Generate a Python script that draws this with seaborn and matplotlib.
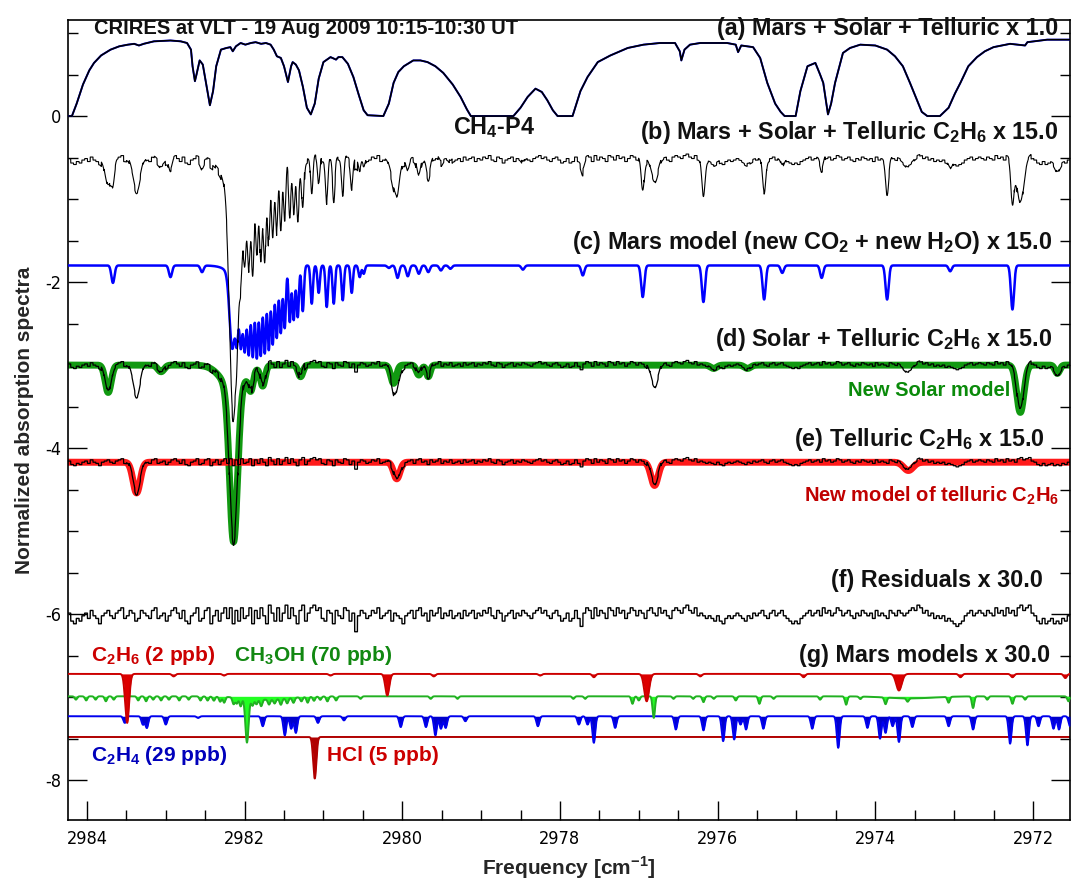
import numpy as np
import matplotlib
matplotlib.use('Agg')
import matplotlib.pyplot as plt
from matplotlib import font_manager
from matplotlib.ticker import MultipleLocator
import seaborn as sns

# ---------------- data ----------------
# (a) Mars + Solar + Telluric, x1 (knots: frequency cm-1, value)
a_freq = [2984.23, 2984.19, 2984.13, 2984.05, 2983.97, 2983.91, 2983.82, 2983.70, 2983.59, 2983.48,
          2983.40, 2983.34, 2983.28, 2983.15, 2982.94, 2982.81, 2982.73, 2982.68, 2982.66, 2982.63,
          2982.61, 2982.57, 2982.53, 2982.49, 2982.44, 2982.40, 2982.36, 2982.30, 2982.23, 2982.18,
          2982.15, 2982.11, 2982.05, 2981.99, 2981.92, 2981.86, 2981.79, 2981.73, 2981.67, 2981.63,
          2981.59, 2981.54, 2981.50, 2981.45, 2981.41, 2981.39, 2981.35, 2981.31, 2981.26, 2981.21,
          2981.16, 2981.11, 2981.06, 2981.00, 2980.91, 2980.84, 2980.81, 2980.76, 2980.69, 2980.62,
          2980.55, 2980.49, 2980.44, 2980.24, 2980.17, 2980.11, 2980.05, 2979.98, 2979.86, 2979.77,
          2979.68, 2979.58, 2979.48, 2979.36, 2979.26, 2979.18, 2979.13, 2978.59, 2978.50, 2978.41,
          2978.31, 2978.23, 2978.16, 2978.09, 2978.03, 2977.84, 2977.74, 2977.65, 2977.52, 2977.36,
          2977.14, 2976.94, 2976.73, 2976.54, 2976.48, 2976.46, 2976.42, 2976.35, 2976.22, 2975.88,
          2975.77, 2975.74, 2975.70, 2975.55, 2975.46, 2975.37, 2975.27, 2975.20, 2975.15, 2975.01,
          2974.95, 2974.86, 2974.76, 2974.70, 2974.66, 2974.62, 2974.60, 2974.56, 2974.51, 2974.44,
          2974.41, 2974.32, 2974.19, 2974.00, 2973.85, 2973.75, 2973.65, 2973.56, 2973.47, 2973.41,
          2973.34, 2973.18, 2973.07, 2972.99, 2972.92, 2972.82, 2972.71, 2972.61, 2972.50, 2972.29,
          2972.10, 2972.07, 2971.82, 2971.66, 2971.53]
a_val = [0.00, 0.00, 0.15, 0.38, 0.55, 0.64, 0.73, 0.80, 0.84, 0.86,
         0.87, 0.85, 0.87, 0.90, 0.91, 0.90, 0.88, 0.80, 0.60, 0.42,
         0.50, 0.67, 0.62, 0.40, 0.13, 0.30, 0.60, 0.80, 0.82, 0.83,
         0.78, 0.84, 0.88, 0.86, 0.88, 0.89, 0.87, 0.88, 0.86, 0.80,
         0.72, 0.70, 0.60, 0.41, 0.60, 0.65, 0.62, 0.55, 0.35, 0.10,
         0.02, 0.15, 0.45, 0.65, 0.71, 0.68, 0.71, 0.71, 0.63, 0.47,
         0.25, 0.07, 0.01, 0.00, 0.15, 0.40, 0.53, 0.60, 0.67, 0.67,
         0.65, 0.60, 0.52, 0.38, 0.23, 0.08, 0.00, 0.00, 0.10, 0.23,
         0.33, 0.29, 0.19, 0.07, 0.00, 0.00, 0.30, 0.47, 0.65, 0.73,
         0.82, 0.86, 0.88, 0.88, 0.78, 0.67, 0.80, 0.86, 0.88, 0.88,
         0.86, 0.77, 0.85, 0.83, 0.70, 0.40, 0.15, 0.05, 0.00, 0.00,
         0.30, 0.60, 0.64, 0.50, 0.40, 0.15, 0.02, 0.15, 0.40, 0.65,
         0.76, 0.82, 0.86, 0.85, 0.80, 0.72, 0.60, 0.40, 0.19, 0.05,
         0.00, 0.00, 0.10, 0.27, 0.40, 0.60, 0.71, 0.78, 0.83, 0.87,
         0.85, 0.89, 0.92, 0.92, 0.92]

# line lists: centre (cm-1), depth (plot units), gaussian width (cm-1)
solar_pos = [2983.73, 2983.06, 2982.14, 2982.14, 2981.92, 2981.77, 2981.29, 2980.11, 2979.79,
             2979.67, 2976.05, 2975.62, 2972.16, 2971.69]
solar_depth = [0.33, 0.08, 1.85, 0.28, 0.22, 0.24, 0.14, 0.22, 0.12, 0.14, 0.04, 0.04, 0.57, 0.10]
solar_width = [0.038, 0.04, 0.05, 0.15, 0.03, 0.03, 0.03, 0.035, 0.03, 0.025, 0.04, 0.04, 0.045, 0.03]

telluric_pos = [2983.37, 2980.07, 2976.80, 2973.58]
telluric_depth = [0.37, 0.20, 0.28, 0.10]
telluric_width = [0.045, 0.04, 0.045, 0.06]

mars_pos = [2983.67, 2982.94, 2982.54, 2982.16, 2982.05, 2981.90,
            2982.099, 2982.048, 2981.998, 2981.947, 2981.896, 2981.845, 2981.795, 2981.744,
            2981.693, 2981.643, 2981.592, 2981.541, 2981.491, 2981.427, 2981.377, 2981.326,
            2981.262, 2981.148, 2981.060, 2980.958, 2980.869, 2980.755, 2980.641, 2980.540,
            2980.489, 2980.17, 2980.06, 2979.93, 2979.79, 2979.67, 2979.51, 2979.39, 2978.47,
            2977.71, 2976.95, 2976.18, 2975.41, 2975.18, 2974.68, 2973.85, 2973.05, 2972.26]
mars_depth = [0.21, 0.14, 0.08, 0.75, 0.40, 0.30,
              0.38, 0.39, 0.47, 0.63, 0.75, 0.82, 0.83, 0.85,
              0.86, 0.84, 0.80, 0.77, 0.73, 0.67, 0.65, 0.62,
              0.55, 0.46, 0.33, 0.50, 0.46, 0.42, 0.33, 0.14,
              0.10, 0.03, 0.15, 0.13, 0.10, 0.08, 0.06, 0.04, 0.05,
              0.12, 0.38, 0.44, 0.41, 0.09, 0.15, 0.41, 0.07, 0.53]
mars_width = [0.02, 0.02, 0.02, 0.032, 0.076, 0.18] + [0.015] * 25 + [0.02] * 17

c2h6_pos = [2983.49, 2980.19, 2976.90, 2973.70, 2982.90, 2982.26, 2980.91, 2979.60, 2978.25,
            2977.57, 2976.22, 2974.91, 2972.92, 2972.26, 2971.59]
c2h6_depth = [0.59, 0.26, 0.33, 0.20, 0.03, 0.02, 0.02, 0.03, 0.02, 0.04, 0.03, 0.04, 0.04, 0.04, 0.05]
c2h6_width = [0.025, 0.025, 0.03, 0.035] + [0.02] * 11

ch3oh_pos = [2984.14, 2984.01, 2983.89, 2983.76, 2983.66, 2983.35, 2983.25, 2983.16, 2983.06,
             2982.96, 2982.83, 2982.71, 2982.56, 2982.39, 2982.26, 2982.14, 2982.05, 2981.97,
             2981.90, 2981.79, 2981.69, 2981.54, 2981.38, 2981.20, 2981.12, 2980.95, 2980.84,
             2980.53, 2979.64, 2979.30, 2977.83, 2977.68, 2977.08, 2977.00, 2976.81, 2976.56,
             2976.31, 2976.18, 2976.05, 2975.77, 2975.47, 2975.29, 2974.70, 2974.37, 2974.19,
             2973.87, 2973.59, 2973.07, 2972.76, 2972.58, 2972.26, 2972.10, 2971.55,
             2982.47, 2982.31, 2982.10, 2981.85, 2981.62, 2981.46, 2981.28, 2981.04,
             2981.73, 2973.56]
ch3oh_depth = [0.04, 0.05, 0.04, 0.06, 0.04, 0.05, 0.06, 0.04, 0.05,
               0.04, 0.05, 0.04, 0.05, 0.05, 0.07, 0.08, 0.10, 0.53,
               0.08, 0.08, 0.06, 0.07, 0.06, 0.07, 0.05, 0.06, 0.05,
               0.03, 0.03, 0.03, 0.03, 0.03, 0.09, 0.05, 0.26, 0.03,
               0.03, 0.07, 0.03, 0.05, 0.09, 0.03, 0.04, 0.10, 0.03,
               0.08, 0.04, 0.07, 0.14, 0.04, 0.09, 0.04, 0.06,
               0.05, 0.06, 0.07, 0.06, 0.05, 0.06, 0.05, 0.04,
               0.04, 0.025]
ch3oh_width = [0.015] * 17 + [0.02] + [0.015] * 43 + [0.28, 0.30]

c2h4_pos = [2983.52, 2983.29, 2983.24, 2983.00, 2982.59, 2981.77, 2981.49, 2981.41, 2981.35,
            2981.07, 2980.74, 2980.02, 2979.70, 2979.58, 2979.51, 2979.45, 2979.20, 2978.28,
            2977.76, 2977.65, 2977.57, 2977.30, 2976.53, 2976.18, 2975.93, 2975.79, 2975.71,
            2975.64, 2975.42, 2974.80, 2974.47, 2974.10, 2973.94, 2973.87, 2973.78, 2973.70,
            2973.53, 2973.07, 2972.76, 2972.29, 2972.07, 2971.93, 2971.74, 2971.67, 2971.53]
c2h4_depth = [0.08, 0.10, 0.14, 0.10, 0.02, 0.12, 0.23, 0.15, 0.20,
              0.08, 0.05, 0.13, 0.13, 0.23, 0.15, 0.14, 0.06, 0.12,
              0.10, 0.10, 0.32, 0.14, 0.16, 0.17, 0.30, 0.28, 0.10,
              0.16, 0.15, 0.15, 0.38, 0.14, 0.27, 0.20, 0.12, 0.31,
              0.13, 0.12, 0.16, 0.33, 0.35, 0.12, 0.15, 0.16, 0.12]
c2h4_width = 0.018

hcl_pos = [2981.11]
hcl_depth = [0.50]
hcl_width = 0.02

# measurement noise of the CRIRES spectrum (residual steps, arbitrary units)
noise_steps = [1, -2, -3, -1, -2, 0, 1, -1, 2, 0, -1, -3, 0, 1, 2, 0, -1, 1, 2, 3, -1, 0, 2, 1, -2, -1, 2, 1, 0, -1,
               2, 3, -1, 0, 1, -2, 0, 2, 3, 1, -1, 2, -2, -3, 0, 1, 3, -2, -1, 2, 3, -3, 0, 2, -2, 1, 3, -1, 3, -3,
               2, -2, 3, -1, 0, 3, -3, 2, -1, 3, 0, -3, 4, 1, -2, 3, -2, 1, 4, -1, 3, 0, -3, 2, 4, -2, 1, 3, 4, 2,
               3, -1, -2, 2, 1, -3, 2, 0, -1, 3, 2, -2, 1, -6, 0, 2, 1, -1, 0, 2, 1, 3, -1, 0, 1, 2, -2, 1, 0, -1,
               -3, 0, 1, 2, -1, 2, 3, 0, 1, -2, 2, 0, 1, 3, -1, 1, 0, 2, -1, 0, 1, -1, 2, 0, 1, 2, -1, 1, 0, 2,
               1, 3, 0, -1, 2, 1, -2, 0, 1, 2, -1, 1, 0, 2, 1, 0, -1, 1, 2, 3, 1, 2, 0, -1, 1, 2, 0, -2, -1, 1,
               -2, -1, 2, -1, -4, 1, 3, 2, -1, 3, 0, 2, 1, -1, 3, 2, 0, 3, 1, 2, -1, 1, 3, 2, 0, 2, 1, -1, 2, 3,
               1, 0, 3, 1, 2, 0, -1, 2, 3, 2, 1, 3, 4, 2, 1, 3, 0, 1, 0, -1, 0, -1, -2, 0, -2, -3, -1, 0, -1, 0,
               1, 0, -1, -2, 0, -1, 1, 0, 1, 2, 0, -1, 1, 2, 0, 1, 2, 0, -1, -2, -3, -2, -3, -1, 0, 1, 2, 0, 1, 2,
               0, 3, 1, 2, 0, 1, 3, 2, 0, 1, 2, 0, -1, 1, 0, 2, 1, 0, 1, -1, 2, 0, 1, 0, -1, 2, 1, 0, 2, 1,
               0, 1, 2, 3, 2, 4, 3, 1, 2, 0, 1, -1, 0, -1, 0, -2, -1, -2, -3, -4, -3, -2, 0, 1, 2, 0, 1, 2, 1, 0,
               2, 1, 0, 3, 1, 2, 0, 3, 1, 2, 0, 3, 4, 2, 3, 4, 1, 0, -2, -3, -1, -3, -2, -1, -3, -2, -3, -1, -2, 0]

# offsets of the stacked spectra
off_b, off_c, off_d, off_e, off_f = -0.53, -1.80, -3.00, -4.17, -6.02
off_c2h6, off_ch3oh, off_c2h4, off_hcl = -6.72, -6.99, -7.23, -7.48

F_HI, F_LO = 2984.24, 2971.53


def absorb(x, pos, depth, width):
    width = np.broadcast_to(np.asarray(width, float), (len(pos),))
    out = np.zeros_like(x)
    for p, d, w in zip(pos, depth, width):
        out += d * np.exp(-0.5 * ((x - p) / w) ** 2)
    return out


x = np.linspace(F_HI, F_LO, 9000)
idx = ((F_HI - x) / (F_HI - F_LO) * len(noise_steps)).astype(int).clip(0, len(noise_steps) - 1)
noise = np.asarray(noise_steps, float)[idx]

solar = absorb(x, solar_pos, solar_depth, solar_width)
tell = absorb(x, telluric_pos, telluric_depth, telluric_width)
mars = absorb(x, mars_pos, mars_depth, mars_width)

# ---------------- style ----------------
sns.set_style('ticks')
plt.rcParams['font.family'] = ['Liberation Sans', 'DejaVu Sans']
plt.rcParams['mathtext.fontset'] = 'custom'
plt.rcParams['mathtext.rm'] = 'Liberation Sans'
plt.rcParams['mathtext.bf'] = 'Liberation Sans:bold'
plt.rcParams['axes.unicode_minus'] = False

installed = {f.name for f in font_manager.fontManager.ttflist}
if 'Liberation Sans Narrow' in installed:
    tick_font = dict(family='Liberation Sans Narrow')
else:
    tick_font = dict(family='DejaVu Sans', stretch='condensed')

fig = plt.figure(figsize=(10.73, 8.8), dpi=100)
ax = fig.add_axes([68 / 1073, 60 / 880, 1002 / 1073, 800 / 880])


def trace(y, color, lw, z):
    sns.lineplot(x=x, y=y, ax=ax, color=color, lw=lw, estimator=None, sort=False, zorder=z)


# (a)
sns.lineplot(x=a_freq, y=a_val, ax=ax, color='blue', lw=1.4, estimator=None, sort=False, zorder=3)
sns.lineplot(x=a_freq, y=a_val, ax=ax, color='black', lw=1.2, estimator=None, sort=False, zorder=4)
# (b)
trace(off_b - mars - solar - tell + 0.018 * noise, 'black', 0.8, 4)
# (c)
trace(off_c - mars, 'blue', 1.8, 3)
# (d)
trace(off_d - solar, '#119911', 5, 2)
trace(off_d - solar - tell + 0.014 * noise, 'black', 0.9, 4)
# (e)
trace(off_e - tell, '#ff1a1a', 5, 2)
trace(off_e - tell + 0.014 * noise, 'black', 0.9, 4)
# (f)
trace(off_f + 0.032 * noise, 'black', 1.0, 4)

# (g) Mars models
for base, pos, dep, wid, fc, ec, z in [
        (off_hcl, hcl_pos, hcl_depth, hcl_width, '#b00000', '#b00000', 2),
        (off_c2h4, c2h4_pos, c2h4_depth, c2h4_width, '#0000cc', '#0000ee', 3),
        (off_ch3oh, ch3oh_pos, ch3oh_depth, ch3oh_width, '#22ff22', '#22b022', 4),
        (off_c2h6, c2h6_pos, c2h6_depth, c2h6_width, '#dd0000', '#cc0000', 5)]:
    y = base - absorb(x, pos, dep, wid)
    ax.fill_between(x, base, y, color=fc, lw=0, zorder=z)
    trace(y, ec, 1.4, z)

# ---------------- axes ----------------
ax.set_xlim(F_HI, F_LO)
ax.set_ylim(-8.48, 1.157)
ax.xaxis.set_major_locator(MultipleLocator(2))
ax.xaxis.set_minor_locator(MultipleLocator(0.5))
ax.yaxis.set_major_locator(MultipleLocator(2))
ax.yaxis.set_minor_locator(MultipleLocator(0.5))
ax.tick_params(which='both', direction='in', right=True, top=False, width=1.0, colors='black')
ax.tick_params(which='major', length=14)
ax.tick_params(which='minor', length=7)
ax.tick_params(axis='x', pad=7)
ax.tick_params(axis='y', pad=5)
for lab in ax.get_xticklabels() + ax.get_yticklabels():
    lab.set(**tick_font)
    lab.set_fontsize(13)
for sp in ax.spines.values():
    sp.set_linewidth(1.2)
    sp.set_color('black')
ax.set_xlabel(r'Frequency [cm$^{\mathbf{-1}}$]', fontsize=15, fontweight='bold', labelpad=5)
ax.set_ylabel('Normalized absorption spectra', fontsize=15, fontweight='bold', labelpad=8)

# ---------------- annotations ----------------
tkw = dict(fontweight='bold', fontsize=16.8, zorder=6, color='#111111')
ax.text(2983.91, 1.06, 'CRIRES at VLT - 19 Aug 2009 10:15-10:30 UT', ha='left', va='center',
        fontweight='bold', fontsize=14.5, color='#111111')
ax.text(2971.68, 1.06, '(a) Mars + Solar + Telluric x 1.0', ha='right', va='center', **tkw)
ax.text(2979.36, -0.14, r'CH$_\mathbf{4}$-P4', ha='left', va='center', **tkw)
ax.text(2971.68, -0.2, r'(b) Mars + Solar + Telluric C$_\mathbf{2}$H$_\mathbf{6}$ x 15.0',
        ha='right', va='center', **tkw)
ax.text(2971.76, -1.52, r'(c) Mars model (new CO$_\mathbf{2}$ + new H$_\mathbf{2}$O) x 15.0',
        ha='right', va='center', **tkw)
ax.text(2971.76, -2.69, r'(d) Solar + Telluric C$_\mathbf{2}$H$_\mathbf{6}$ x 15.0',
        ha='right', va='center', **tkw)
ax.text(2972.29, -3.31, 'New Solar model', ha='right', va='center', color='#0a8a0a',
        fontweight='bold', fontsize=14.5)
ax.text(2971.85, -3.9, r'(e) Telluric C$_\mathbf{2}$H$_\mathbf{6}$ x 15.0', ha='right', va='center', **tkw)
ax.text(2971.67, -4.58, r'New model of telluric C$_\mathbf{2}$H$_\mathbf{6}$', ha='right', va='center',
        color='#c00000', fontweight='bold', fontsize=14.5)
ax.text(2971.87, -5.59, '(f) Residuals x 30.0', ha='right', va='center', **tkw)
ax.text(2971.78, -6.5, '(g) Mars models x 30.0', ha='right', va='center', **tkw)
ax.text(2983.95, -6.5, r'C$_\mathbf{2}$H$_\mathbf{6}$ (2 ppb)', ha='left', va='center',
        color='#cc0000', fontweight='bold', fontsize=15)
ax.text(2982.14, -6.5, r'CH$_\mathbf{3}$OH (70 ppb)', ha='left', va='center',
        color='#118811', fontweight='bold', fontsize=15)
ax.text(2983.95, -7.7, r'C$_\mathbf{2}$H$_\mathbf{4}$ (29 ppb)', ha='left', va='center',
        color='#0000bb', fontweight='bold', fontsize=15)
ax.text(2980.96, -7.7, 'HCl (5 ppb)', ha='left', va='center',
        color='#cc0000', fontweight='bold', fontsize=15)

fig.savefig('out.png', dpi=100)
